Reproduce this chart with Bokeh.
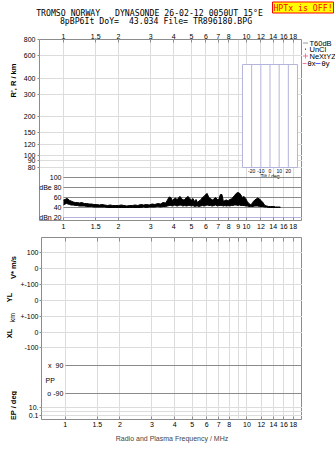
import math
from bokeh.plotting import figure
from bokeh.models import Range1d, LogAxis, FixedTicker, LinearScale
from bokeh.layouts import column, row
from bokeh.embed import file_html
from bokeh.resources import INLINE
from bokeh.core.properties import value

# ---------------- data ----------------
top_ticks = [1, 1.5, 2, 3, 4, 5, 6, 7, 8, 10, 12, 14, 16, 18]
mid_ticks = [1, 1.5, 2, 3, 4, 5, 6, 7, 8, 9, 10, 12, 14, 16, 18]
bottom_ticks = [1, 1.5, 2, 3, 4, 5, 6, 7, 8, 10, 12, 14, 16, 18]
range_ticks = [80, 90, 100, 120, 150, 200, 300, 400, 600, 800]
db_ticks = [100, 80, 60, 40]
db_labels = ["100", "dBe 80", "60", "40"]
dbn_ticks = [20]
dbn_labels = ["dBn 20"]
tilt_ticks = [-20, -10, 0, 10, 20]
tilt_labels = ["-20", "-10", "0", "10", "20"]

freq = [1.00, 1.02, 1.04, 1.06, 1.08, 1.10, 1.13, 1.16, 1.19, 1.22,
        1.26, 1.30, 1.34, 1.38, 1.42, 1.47, 1.52, 1.57, 1.62, 1.68,
        1.74, 1.80, 1.86, 1.93, 2.00, 2.07, 2.14, 2.22, 2.30, 2.38,
        2.46, 2.55, 2.64, 2.74, 2.84, 2.94, 3.05, 3.16, 3.27, 3.39,
        3.50, 3.62, 3.70, 3.78, 3.86, 3.94, 4.02, 4.10, 4.18, 4.26,
        4.34, 4.42, 4.50, 4.60, 4.70, 4.80, 4.90, 5.00, 5.10, 5.20,
        5.30, 5.40, 5.50, 5.62, 5.74, 5.86, 5.98, 6.10, 6.22, 6.36,
        6.50, 6.64, 6.78, 6.92, 7.06, 7.20, 7.34, 7.48, 7.62, 7.78,
        7.94, 8.10, 8.26, 8.42, 8.60, 8.78, 8.96, 9.14, 9.32, 9.50,
        9.70, 9.90, 10.1, 10.3, 10.5, 10.7, 10.9, 11.1, 11.3, 11.5,
        11.8, 12.0, 12.3, 12.6, 12.9, 13.2, 13.5, 13.8, 14.1, 14.4,
        14.7, 15.0, 15.3]
db_low = [45, 47, 48, 47, 46, 45, 45, 44, 44, 43,
          43, 43, 42, 42, 42, 41, 41, 41, 41, 41,
          40, 40, 40, 40, 40, 40, 40, 40, 40, 40,
          40, 40, 40, 41, 40, 41, 41, 41, 42, 41,
          42, 42, 43, 44, 44, 43, 45, 44, 43, 44,
          45, 44, 43, 44, 43, 44, 44, 43, 44, 42,
          43, 43, 42, 43, 44, 43, 44, 45, 44, 44,
          43, 44, 45, 43, 44, 44, 44, 43, 44, 43,
          44, 43, 44, 44, 45, 45, 44, 45, 44, 44,
          44, 43, 43, 42, 42, 42, 42, 43, 43, 43,
          42, 42, 42, 41, 41, 40, 40, 40, 40, 40,
          40, 40, 40]
db_high = [55, 56, 58, 57, 54, 53, 51, 50, 50, 49,
           50, 48, 48, 47, 47, 46, 46, 45, 46, 45,
           44, 45, 44, 44, 44, 45, 44, 43, 44, 44,
           45, 44, 46, 45, 46, 45, 47, 46, 48, 47,
           50, 49, 55, 61, 60, 54, 57, 59, 55, 60,
           62, 58, 55, 56, 60, 62, 58, 55, 58, 52,
           56, 50, 53, 55, 60, 62, 66, 68, 60, 58,
           55, 57, 60, 56, 56, 66, 66, 52, 54, 55,
           53, 56, 57, 60, 64, 68, 70, 69, 65, 60,
           62, 58, 52, 48, 46, 47, 52, 55, 57, 59,
           57, 54, 50, 44, 43, 42, 42, 42, 42, 41,
           41, 41, 41]
assert len(freq) == len(db_low) == len(db_high)

lower_pos = [167, 151, 135, 119, 103, 87, 72, 12, 4]
lower_labels = ["100", "0", "+-100", "0", "+-100", "0", "-100", "10.", "0.1"]
lower_grid = [167, 151, 135, 119, 103, 87, 72, 12, 8, 4]
pp_pos = [54, 26]
pp_labels = ["x\u00a0\u00a090", "o -90"]

NB = "\u00a0"
title_lines = ["TROMSO NORWAY" + NB * 3 + "DYNASONDE 26-02-12 0050UT 15\u00b0E",
               "8pBP6It DoY=" + NB * 2 + "43.034 File= TR896180.BPG"]
hptx_text = ["HPTx is OFF!"]
legend_labels = ["T60dB", "UnCl", "NeXtYZ"]
upper_side_labels = ["R', R / km"]
lower_side_labels = ["V* m/s", "YL", "km", "XL", "EP / deg"]

# ---------------- styling constants ----------------
FONT = "Liberation Sans"
MONO = "DejaVu Sans Mono"
GRID = "#dcdcdc"
FRAME = "#8c8c8c"
DARK = "#8a8a8a"
LAV = "#b4b4dc"
PINK = "#ff6f9a"
BLUE = "#5a5aff"
X_LO, X_HI = 0.7397, 20.23
R_LO, R_HI = 30.83, 800
DB_LO, DB_HI = 14, 376
TILT_C, TILT_K = 1.1284, 0.005012
TILT_MIN, TILT_MAX = -30, 30
INSET_BOT, INSET_TOP = 80, 510

W_LEFT, W_RIGHT = 17, 33
B_LEFT = 22
FRAME_W = 263
H_TITLE, H_UP, H_LOW = 27, 206, 218
UP_TOP, UP_BOT = 12, 13      # borders of upper figure
LO_TOP, LO_BOT = 4, 32       # borders of lower figure
UP_FRAME_BOTTOM = H_TITLE + H_UP - UP_BOT          # canvas y of upper frame bottom
LO_FRAME_BOTTOM = H_TITLE + H_UP + H_LOW - LO_BOT  # canvas y of lower frame bottom


def tilt_f(t):
    return 10 ** (TILT_C + t * TILT_K)


def style_axis(ax, ticks, show=True, tick_in=0, tick_out=0, standoff=2):
    ax.ticker = FixedTicker(ticks=ticks)
    ax.major_label_overrides = {t: (("%g" % t) if show else "") for t in ticks}
    ax.axis_line_color = None
    ax.major_tick_line_color = FRAME
    ax.minor_tick_line_color = None
    ax.major_tick_in = tick_in
    ax.major_tick_out = tick_out
    ax.major_label_standoff = standoff
    ax.major_label_text_font = FONT
    ax.major_label_text_font_size = "7px" if show else "0px"
    ax.major_label_text_color = "black"


def blank(w, h, top=0, bottom=0):
    f = figure(width=w, height=h, x_range=Range1d(0, w),
               y_range=Range1d(0, h - top - bottom),
               x_axis_type=None, y_axis_type=None, output_backend="svg",
               toolbar_location=None, min_border_left=0, min_border_right=0,
               min_border_top=top, min_border_bottom=bottom,
               outline_line_color=None,
               background_fill_color="white", border_fill_color="white")
    f.xgrid.visible = False
    f.ygrid.visible = False
    return f


def txt(f, x, y, s, size="7px", font=FONT, align="center", color="black",
        angle=0.0, style="normal"):
    f.text(x=[x], y=[y], text=[s], text_font=value(font), text_font_size=size,
           text_align=align, text_baseline="middle", text_color=color,
           angle=angle, text_font_style=style)


# ---------------- title strip ----------------
tf_ = blank(335, H_TITLE)
txt(tf_, 149, H_TITLE - 12, title_lines[0], size="8.2px", font=MONO)
txt(tf_, 155.5, H_TITLE - 20, title_lines[1], size="8.2px", font=MONO)
tf_.quad(left=[272], right=[333], bottom=[H_TITLE - 12.5], top=[H_TITLE - 1.5],
         fill_color="yellow", line_color="red", line_width=1)
txt(tf_, 302.5, H_TITLE - 7, hptx_text[0], size="8.2px", font=MONO, color="red")

# ---------------- upper figure ----------------
p1 = figure(width=B_LEFT + FRAME_W, height=H_UP, x_axis_type="log",
            y_axis_type="log", x_range=Range1d(X_LO, X_HI),
            y_range=Range1d(R_LO, R_HI), output_backend="svg",
            toolbar_location=None, min_border_left=B_LEFT, min_border_right=0,
            min_border_top=UP_TOP, min_border_bottom=UP_BOT,
            outline_line_color=FRAME,
            background_fill_color="white", border_fill_color="white")
p1.extra_y_ranges = {"db": Range1d(DB_LO, DB_HI)}
p1.extra_y_scales = {"db": LinearScale()}

style_axis(p1.xaxis[0], mid_ticks, True, tick_in=3, standoff=3)
top1 = LogAxis()
p1.add_layout(top1, "above")
style_axis(top1, top_ticks, True, tick_in=3, standoff=1)
style_axis(p1.yaxis[0], range_ticks, True, tick_out=2, standoff=2)

p1.xgrid.ticker = FixedTicker(ticks=mid_ticks)
p1.xgrid.grid_line_color = GRID
p1.ygrid.ticker = FixedTicker(ticks=range_ticks)
p1.ygrid.grid_line_color = GRID

# tilt inset
p1.quad(left=[tilt_f(TILT_MIN)], right=[tilt_f(TILT_MAX)], bottom=[INSET_BOT],
        top=[INSET_TOP], fill_color="white", line_color=LAV, line_width=1)
tfx = [tilt_f(t) for t in tilt_ticks]
p1.segment(x0=tfx, y0=[INSET_BOT] * len(tfx), x1=tfx, y1=[INSET_TOP] * len(tfx),
           line_color=LAV, line_width=1)
p1.text(x=tfx, y=[74.5] * len(tfx), text=tilt_labels, text_font=value(FONT),
        text_font_size="5px", text_align="center", text_baseline="middle")
p1.text(x=[tilt_f(0)], y=[68.7], text=["Tilt / deg"], text_font=value(FONT),
        text_font_size="5px", text_align="center", text_baseline="middle")

# dB panel
p1.segment(x0=[1] * len(db_ticks), y0=db_ticks, x1=[X_HI] * len(db_ticks),
           y1=db_ticks, y_range_name="db", line_color=DARK, line_width=1)
p1.segment(x0=[1], y0=dbn_ticks, x1=[X_HI], y1=dbn_ticks, y_range_name="db",
           line_color=LAV, line_width=1)
p1.text(x=[1] * len(db_ticks), y=db_ticks, text=db_labels, x_offset=-2,
        y_range_name="db", text_font=value(FONT), text_font_size="7px",
        text_align="right", text_baseline="middle")
p1.text(x=[1], y=dbn_ticks, text=dbn_labels, x_offset=-2, y_range_name="db",
        text_font=value(FONT), text_font_size="7px", text_align="right",
        text_baseline="middle")
p1.varea(x=freq, y1=db_low, y2=db_high, y_range_name="db", fill_color="black")
p1.line(freq, db_high, y_range_name="db", line_color="black", line_width=1)
p1.line(freq, db_low, y_range_name="db", line_color="black", line_width=1)

# left label strip (upper) -- coordinates: pixels above the upper frame bottom
l1 = blank(W_LEFT, H_UP, UP_TOP, UP_BOT)
txt(l1, 12.5, UP_FRAME_BOTTOM - 80, upper_side_labels[0], size="7.5px",
    angle=math.pi / 2, style="bold")

# right legend strip (upper)
r1 = blank(W_RIGHT, H_UP, UP_TOP, UP_BOT)
yl = [UP_FRAME_BOTTOM - 42.5, UP_FRAME_BOTTOM - 48.5, UP_FRAME_BOTTOM - 55.5,
      UP_FRAME_BOTTOM - 63]
r1.segment(x0=[0.5], y0=[yl[0]], x1=[5.5], y1=[yl[0]], line_color="#9a9a9a",
           line_width=1)
txt(r1, 7, yl[0], legend_labels[0], size="7.5px", align="left")
r1.scatter(x=[3], y=[yl[1]], marker="dot", size=5, color="black")
txt(r1, 7, yl[1], legend_labels[1], size="7.5px", align="left")
r1.scatter(x=[3], y=[yl[2]], marker="cross", size=5, color=PINK, line_width=1)
txt(r1, 7, yl[2], legend_labels[2], size="7.5px", align="left")
r1.segment(x0=[0], y0=[yl[3]], x1=[4], y1=[yl[3]], line_color=PINK, line_width=1)
txt(r1, 5, yl[3], "\u03b8x", size="7.5px", align="left")
r1.segment(x0=[13], y0=[yl[3]], x1=[18], y1=[yl[3]], line_color=BLUE, line_width=1)
txt(r1, 19, yl[3], "\u03b8y", size="7.5px", align="left")

# ---------------- lower figure ----------------
p2 = figure(width=B_LEFT + FRAME_W, height=H_LOW, x_axis_type="log",
            x_range=Range1d(X_LO, X_HI), y_range=Range1d(0, 182),
            output_backend="svg", toolbar_location=None,
            min_border_left=B_LEFT, min_border_right=0, min_border_top=LO_TOP,
            min_border_bottom=LO_BOT, outline_line_color=FRAME,
            background_fill_color="white", border_fill_color="white")
style_axis(p2.xaxis[0], bottom_ticks, True, tick_in=3, standoff=2)
p2.xaxis[0].axis_label = "Radio and Plasma Frequency / MHz"
p2.xaxis[0].axis_label_text_font = FONT
p2.xaxis[0].axis_label_text_font_size = "7px"
p2.xaxis[0].axis_label_text_font_style = "normal"
p2.xaxis[0].axis_label_standoff = 5
top2 = LogAxis()
p2.add_layout(top2, "above")
style_axis(top2, mid_ticks, False, tick_in=4, standoff=0)
style_axis(p2.yaxis[0], lower_pos, True, tick_out=2, standoff=1)
p2.yaxis[0].major_label_overrides = dict(zip(lower_pos, lower_labels))

p2.xgrid.ticker = FixedTicker(ticks=mid_ticks)
p2.xgrid.grid_line_color = GRID
p2.ygrid.ticker = FixedTicker(ticks=lower_grid)
p2.ygrid.grid_line_color = GRID

p2.segment(x0=[1] * len(pp_pos), y0=pp_pos, x1=[X_HI] * len(pp_pos), y1=pp_pos,
           line_color=DARK, line_width=1)
p2.text(x=[1] * len(pp_pos), y=pp_pos, text=pp_labels, x_offset=-2,
        text_font=value(FONT), text_font_size="7px", text_align="right",
        text_baseline="middle")
p2.text(x=[0.778], y=[39], text=["PP"], text_font=value(FONT),
        text_font_size="7px", text_align="left", text_baseline="middle")

# left label strip (lower) -- coordinates: pixels above the lower frame bottom
l2 = blank(W_LEFT, H_LOW, LO_TOP, LO_BOT)
side_pos = [(12.5, 267), (9, 297), (12, 317), (9, 333), (12.5, 405)]
for s, (sx, sy) in zip(lower_side_labels, side_pos):
    txt(l2, sx, LO_FRAME_BOTTOM - sy, s, size="7.5px" if s != "km" else "7px",
        angle=math.pi / 2, style="bold" if s != "km" else "normal")

r2 = blank(W_RIGHT, H_LOW, LO_TOP, LO_BOT)

layout = column(tf_, row(l1, p1, r1, spacing=0), row(l2, p2, r2, spacing=0),
                spacing=0)
open("out.html", "w").write(file_html(layout, INLINE))
